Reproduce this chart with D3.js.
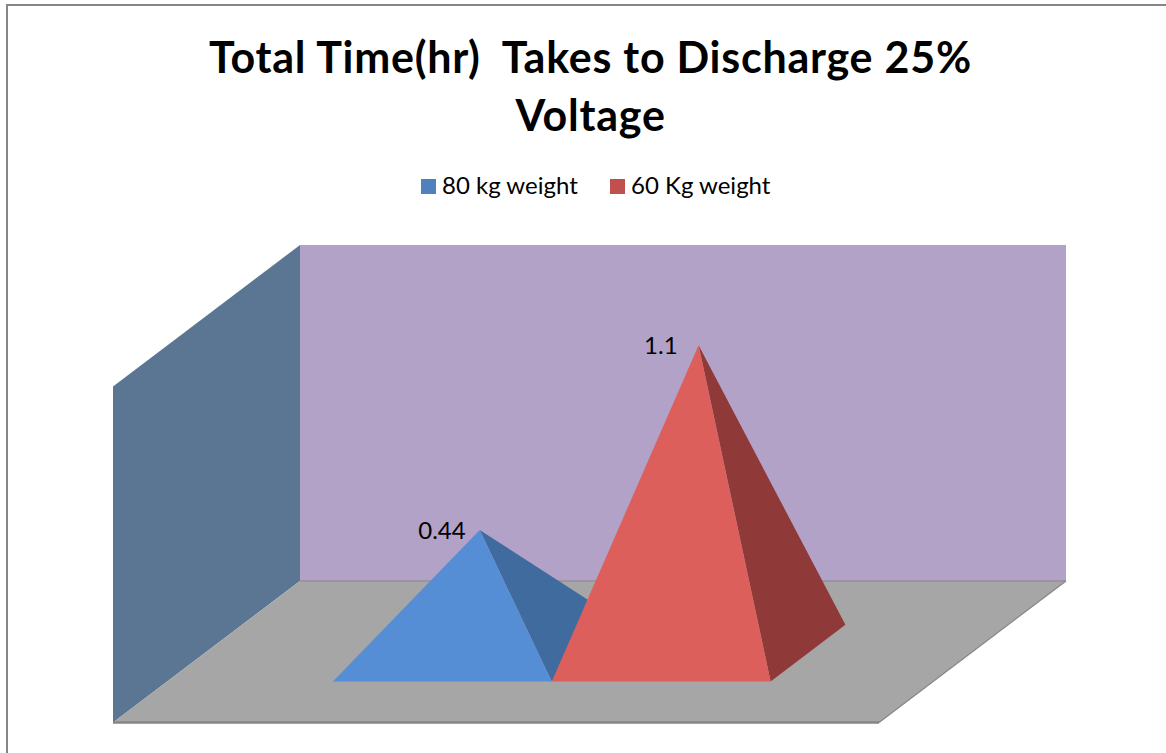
<!DOCTYPE html>
<html>
<head>
<meta charset="utf-8">
<script src="https://cdn.jsdelivr.net/npm/d3@7/dist/d3.min.js"></script>
<style>
  html, body { margin: 0; padding: 0; background: #fff; overflow: hidden; }
  svg { display: block; }
  text { font-family: "Lato", "Open Sans", sans-serif; fill: #000; white-space: pre; }
</style>
</head>
<body>
<svg id="chart" width="1166" height="753"></svg>
<script>
// Chart content
const titleLines = ["Total Time(hr)  Takes to Discharge 25%", "Voltage"];
const seriesNames = ["80 kg weight", "60 Kg weight"];
const seriesValues = [0.44, 1.1];
const valueLabels = ["0.44", "1.1"];
const axisMax = 1.2;

// Colours per series: legend key, front face, side face
const legendColors = ["#4F81BD", "#C0504D"];
const frontColors = ["#558ED5", "#DC5F5C"];
const sideColors = ["#3F6B9F", "#8F3A38"];

const svg = d3.select("#chart");

// Oblique projection of the 3D plot box
const depthVector = { x: 187, y: -141.5 };
const xScale = d3.scaleLinear().domain([0, 1]).range([113, 879]);
const yScale = d3.scaleLinear().domain([0, axisMax]).range([722.5, 386.5]);
const project = (x, value, depth) => [
  xScale(x) + depth * depthVector.x,
  yScale(value) + depth * depthVector.y
];
const polygon = pts => "M" + pts.map(p => p.join(",")).join("L") + "Z";

// Columns occupy the middle of the floor with a 150% gap on both sides
const band = d3.scaleBand().domain(seriesNames).range([0.002, 1.002]).paddingInner(0).paddingOuter(0.75);
const depthFront = 0.29, depthBack = 0.69, depthMid = (depthFront + depthBack) / 2;

// Outer frame, running off the top-right of the page
svg.append("rect")
  .attr("x", 7).attr("y", 5).attr("width", 1200).attr("height", 800)
  .attr("fill", "#fff").attr("stroke", "#868686").attr("stroke-width", 2);

// Title
svg.append("g").selectAll("text").data(titleLines).join("text")
  .attr("x", 590.5)
  .attr("y", (d, i) => 72.5 + i * 58)
  .attr("text-anchor", "middle")
  .attr("font-size", 43)
  .attr("font-weight", 700)
  .attr("letter-spacing", 0.75)
  .text(d => d);

// Legend
const legendX = [421, 610];
const legend = svg.append("g").selectAll("g").data(seriesNames).join("g")
  .attr("transform", (d, i) => `translate(${legendX[i]},179)`);
legend.append("rect").attr("width", 15).attr("height", 15).attr("fill", (d, i) => legendColors[i]);
legend.append("text").attr("x", 21).attr("y", 14.5).attr("font-size", 24).text(d => d);

// Walls and floor
svg.append("path").attr("fill", "#5B7693")
  .attr("d", polygon([project(0, 0, 0), project(0, axisMax, 0), project(0, axisMax, 1), project(0, 0, 1)]));
svg.append("path").attr("fill", "#B3A2C8")
  .attr("d", polygon([project(0, 0, 1), project(0, axisMax, 1), project(1, axisMax, 1), project(1, 0, 1)]));
svg.append("path").attr("fill", "#A6A6A6")
  .attr("d", polygon([project(0, 0, 0), project(0, 0, 1), project(1, 0, 1), project(1, 0, 0)]));

// Floor edges
const edges = [
  [project(0, 0, 1), project(1, 0, 1), 1.2],
  [project(1, 0, 1), project(1, 0, 0), 1.2],
  [project(0, 0, 0), project(1, 0, 0), 2.4]
];
svg.append("g").selectAll("line").data(edges).join("line")
  .attr("x1", d => d[0][0]).attr("y1", d => d[0][1])
  .attr("x2", d => d[1][0]).attr("y2", d => d[1][1])
  .attr("stroke", "#868686").attr("stroke-width", d => d[2]);

// Pyramids, side face first so the front face sits over it
const pyramids = svg.append("g").selectAll("g").data(seriesNames).join("g");
const frontLeft = name => project(band(name), 0, depthFront);
const frontRight = name => project(band(name) + band.bandwidth(), 0, depthFront);
const backRight = name => project(band(name) + band.bandwidth(), 0, depthBack);
const apex = (name, i) => project(band(name) + band.bandwidth() / 2, seriesValues[i], depthMid);

pyramids.append("path").attr("fill", (d, i) => sideColors[i])
  .attr("d", (d, i) => polygon([apex(d, i), frontRight(d), backRight(d)]));
pyramids.append("path").attr("fill", (d, i) => frontColors[i])
  .attr("d", (d, i) => polygon([apex(d, i), frontLeft(d), frontRight(d)]));

// Value labels, just left of each apex
svg.append("g").selectAll("text").data(seriesNames).join("text")
  .attr("x", (d, i) => apex(d, i)[0] - (i === 0 ? 14 : 21))
  .attr("y", (d, i) => apex(d, i)[1] + 9)
  .attr("text-anchor", "end")
  .attr("font-size", 24)
  .text((d, i) => valueLabels[i]);
</script>
</body>
</html>
